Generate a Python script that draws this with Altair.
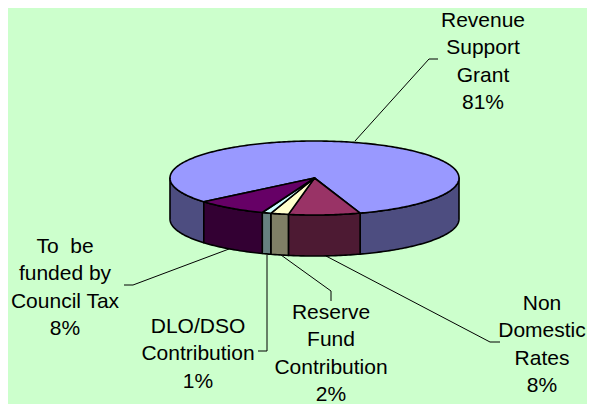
import math
import altair as alt

# ---- data ----
categories = ["Revenue Support Grant", "Non Domestic Rates", "Reserve Fund Contribution",
              "DLO/DSO Contribution", "To be funded by Council Tax"]
shares = [81, 8, 2, 1, 8]
top_colors = ["#9999FF", "#993366", "#FFFFCC", "#CCFFFF", "#660066"]
side_colors = ["#4D4D80", "#4D1A33", "#808066", "#668080", "#330033"]
label_lines = [
    ["Revenue", "Support", "Grant", "81%"],
    ["Non", "Domestic", "Rates", "8%"],
    ["Reserve", "Fund", "Contribution", "2%"],
    ["DLO/DSO", "Contribution", "1%"],
    ["To\u00a0 be", "funded by", "Council Tax", "8%"],
]

# ---- layout ----
W, H = 595, 412
CX, CY, A, B, DEPTH = 314.5, 178, 144.5, 37, 41
START = 230
label_x = [483, 542, 331, 198, 65]
label_y = [21, 304, 313, 327, 247]
line_h = 27.3
leaders = [
    [(355, 141), (429, 59), (438, 59)],
    [(326, 256), (490, 342), (500, 342)],
    [(281, 255), (331, 291), (331, 301)],
    [(267, 255), (267, 351), (258, 351)],
    [(229, 249), (133, 285), (124, 285)],
]


def pt(t, dy=0):
    r = math.radians(t)
    return [CX + A * math.sin(r), CY - B * math.cos(r) + dy]


def arc(t0, t1, dy=0):
    n = max(2, int(abs(t1 - t0)) + 1)
    return [pt(t0 + (t1 - t0) * i / n, dy) for i in range(n + 1)]


def feature(ring, color):
    ring = ring + [ring[0]]
    return {"type": "Feature", "properties": {"color": color},
            "geometry": {"type": "Polygon", "coordinates": [ring]}}


tops, sides = [], []
t = START
for share, tc, sc in zip(shares, top_colors, side_colors):
    t1 = t + share * 3.6
    tops.append(feature([[CX, CY]] + arc(t, t1), tc))
    # visible front wall: angles 90..270 (mod 360)
    for k in (-360, 0, 360):
        lo, hi = max(t, 90 + k), min(t1, 270 + k)
        if hi > lo:
            sides.append(feature(arc(lo, hi) + arc(hi, lo, DEPTH), sc))
    t = t1

text_rows = []
for lines, x, y in zip(label_lines, label_x, label_y):
    for i, s in enumerate(lines):
        text_rows.append({"lon": x, "lat": y + i * line_h, "s": s})

leader_rows = []
for i, pts in enumerate(leaders):
    for j, (x, y) in enumerate(pts):
        leader_rows.append({"lon": x, "lat": y, "g": i, "o": j})


def geo(features, width):
    return alt.Chart(alt.InlineData(values={"type": "FeatureCollection", "features": features},
                                    format=alt.DataFormat(property="features", type="json"))
                     ).mark_geoshape(stroke="black", strokeWidth=width, strokeJoin="round"
                     ).encode(color=alt.Color("properties.color:N", scale=None, legend=None))


lines_layer = alt.Chart(alt.Data(values=leader_rows)).mark_line(color="black", strokeWidth=1).encode(
    longitude="lon:Q", latitude="lat:Q", detail="g:N", order="o:Q")
text_layer = alt.Chart(alt.Data(values=text_rows)).mark_text(
    font="Liberation Sans", fontSize=21, color="black", align="center", baseline="middle"
).encode(longitude="lon:Q", latitude="lat:Q", text="s:N")

chart = alt.layer(lines_layer, geo(sides, 1.6), geo(tops, 1.6), text_layer).project(
    type="identity", scale=1, translate=[-8, -8]
).properties(width=W - 16, height=H - 16, padding=0, background="#CCFFCC"
).configure_view(stroke=None)

chart.save("out.html", embed_options={"renderer": "svg", "actions": False})
